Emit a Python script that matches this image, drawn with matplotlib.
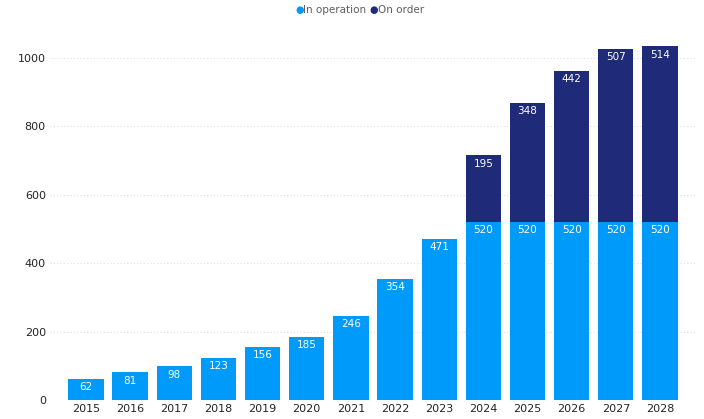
import numpy as np
import matplotlib.pyplot as plt

years = ["2015", "2016", "2017", "2018", "2019", "2020", "2021",
         "2022", "2023", "2024", "2025", "2026", "2027", "2028"]
in_operation = [62, 81, 98, 123, 156, 185, 246, 354, 471, 520, 520, 520, 520, 520]
on_order = [0, 0, 0, 0, 0, 0, 0, 0, 0, 195, 348, 442, 507, 514]

c_oper = "#009BFA"
c_order = "#1F2A78"

fig = plt.figure(figsize=(7.04, 4.19), dpi=100)
ax = fig.add_axes([0.071, 0.0453, 0.916, 0.898])

x = np.arange(len(years))
ax.bar(x, in_operation, width=0.8, color=c_oper, zorder=2)
ax.bar(x, on_order, width=0.8, bottom=in_operation, color=c_order, zorder=2)

# value labels just inside the top of each segment
for xi, v in zip(x, in_operation):
    ax.annotate(str(v), (xi, v), xytext=(0, -6), textcoords="offset points",
                ha="center", va="center", color="white", fontsize=7.5)
for xi, b, v in zip(x, in_operation, on_order):
    if v > 0:
        ax.annotate(str(v), (xi, b + v), xytext=(0, -6), textcoords="offset points",
                    ha="center", va="center", color="white", fontsize=7.5)

ax.set_xlim(-0.815, 13.79)
ax.set_ylim(0, 1100)
ax.set_yticks([0, 200, 400, 600, 800, 1000])
ax.set_xticks(x)
ax.set_xticklabels(years)
ax.tick_params(axis="both", length=0, labelsize=8, colors="#252423", pad=3)
ax.tick_params(axis="y", pad=3)
ax.grid(axis="y", color="#e0e0e0", linestyle=(0, (1, 2)), linewidth=0.8, zorder=0)
for s in ax.spines.values():
    s.set_visible(False)

# legend
fig.text(0.425, 0.975, "\u25cf", color=c_oper, fontsize=7, ha="center", va="center")
fig.text(0.431, 0.975, "In operation", color="#605E5C", fontsize=7.5, ha="left", va="center")
fig.text(0.531, 0.975, "\u25cf", color=c_order, fontsize=7, ha="center", va="center")
fig.text(0.537, 0.975, "On order", color="#605E5C", fontsize=7.5, ha="left", va="center")

fig.savefig("out.png", dpi=100)
